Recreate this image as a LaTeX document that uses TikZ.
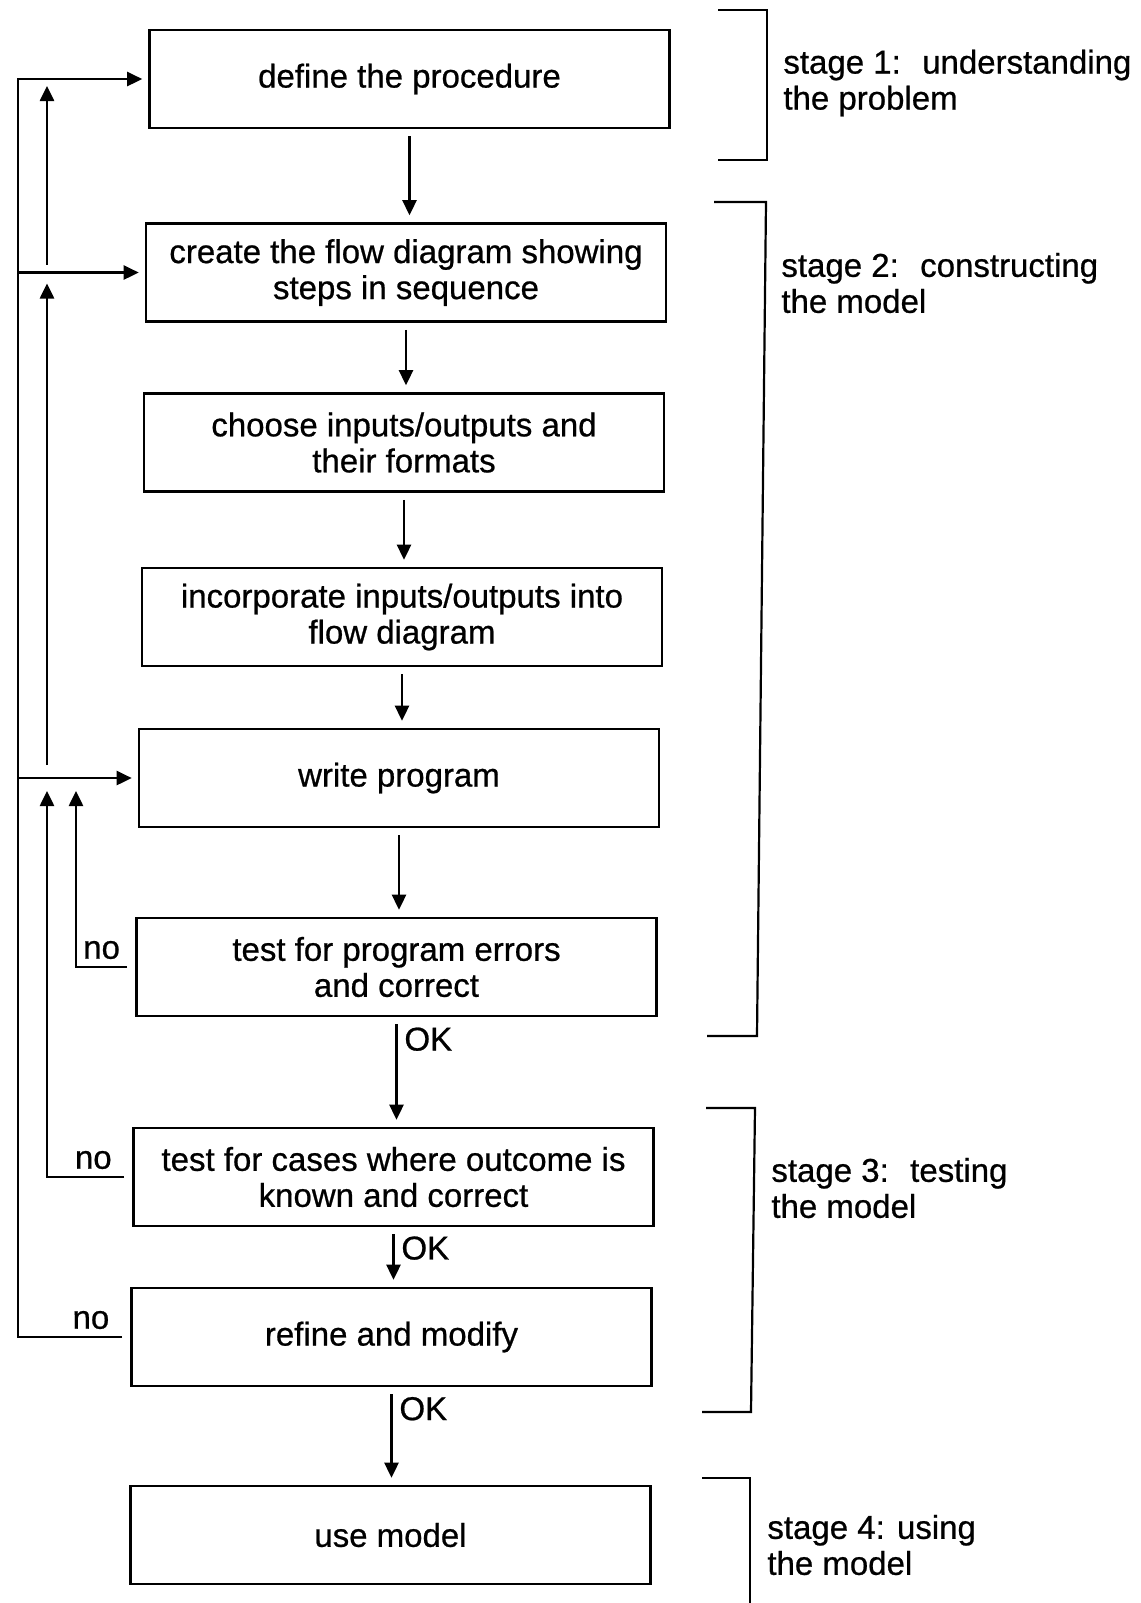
\documentclass[tikz,border=0pt]{standalone}
\usepackage{fontspec}
\setmainfont{Liberation Sans}[UprightFeatures={FakeBold=0.7}]
\usetikzlibrary{arrows.meta,positioning,calc}

\begin{document}
\begin{tikzpicture}[
    x=0.5pt, y=-0.5pt,
    font=\fontsize{16.5}{18}\selectfont,
    >={Triangle[length=7.5pt,width=7pt]},
    box/.style={draw, line width=1.3pt, minimum width=260pt, minimum height=49pt, align=center, inner sep=2pt},
    arrow/.style={->, line width=1.3pt, shorten <=3.5pt, shorten >=3.5pt},
    feed/.style={->, line width=1.3pt, shorten >=3pt},
    rise/.style={->, line width=1.3pt},
    bracket/.style={line width=1.1pt},
    stage/.style={anchor=west, align=left, inner sep=0pt}
]
\useasboundingbox (0,0) rectangle (1141,1603);
% boxes of the procedure
\node[box] (define) at (409.5,79) {define the procedure};
\node[box] (flow) at (406,272.5) {create the flow diagram showing\\steps in sequence};
\node[box] (inputs) at (404,442.5) {choose inputs/outputs and\\their formats};
\node[box] (incorp) at (402,617) {incorporate inputs/outputs into\\flow diagram};
\node[box] (write) at (399,778) {write program};
\node[box] (errors) at (396.5,967) {test for program errors\\and correct};
\node[box] (cases) at (393.5,1177) {test for cases where outcome is\\known and correct};
\node[box] (refine) at (391.5,1337) {refine and modify};
\node[box] (use) at (390.5,1535) {use model};
% main sequence
\draw[arrow] (define) -- (define |- flow.north);
\draw[arrow] (flow) -- (flow |- inputs.north);
\draw[arrow] (inputs) -- (inputs |- incorp.north);
\draw[arrow] (incorp) -- (incorp |- write.north);
\draw[arrow] (write) -- (write |- errors.north);
\draw[arrow] (errors) -- node[right, pos=.2] {OK} (errors |- cases.north);
\draw[arrow] (cases) -- node[right, pos=.35] {OK} (cases |- refine.north);
\draw[arrow] (refine) -- node[right, pos=.22] {OK} (refine |- use.north);
% feedback loops
\coordinate (rail) at (18,0);
\coordinate (rail2) at (47,0);
\coordinate (rail3) at (76,0);
\draw[feed] ([xshift=-4pt]refine.west) -- node[above, pos=.3] {no} (refine.west -| rail) |- (define.west);
\draw[feed] (flow.west -| rail) -- (flow.west);
\draw[feed] (write.west -| rail) -- (write.west);
\draw[rise] ([xshift=-4pt]cases.west) -- node[above, pos=.4] {no} (cases.west -| rail2) -- ($(write.west -| rail2)+(0,13)$);
\draw[rise] ($(write.west -| rail2)+(0,-13)$) -- ($(flow.west -| rail2)+(0,11)$);
\draw[rise] ($(flow.west -| rail2)+(0,-8)$) -- ($(define.west -| rail2)+(0,7)$);
\draw[rise] ([xshift=-4pt]errors.west) -- node[above] {no} (errors.west -| rail3) -- ($(write.west -| rail3)+(0,13)$);
% stage brackets
\draw[bracket] (718,10) -- (767,10) -- (767,160) -- (718,160);
\draw[bracket] (714,202) -- (766,202) -- (757,1036) -- (707,1036);
\draw[bracket] (706,1108) -- (755,1108) -- (751,1412) -- (702,1412);
\draw[bracket] (702,1478) -- (750,1478) -- (750,1603);
\node[stage] (stage1) at (783,83) {stage 1:~ understanding\\the problem};
\node[stage] (stage2) at (781,283) {stage 2:~ constructing\\the model};
\node[stage] (stage3) at (771,1188) {stage 3:~ testing\\the model};
\node[stage] (stage4) at (767,1545) {stage 4: using\\the model};
\end{tikzpicture}
\end{document}
